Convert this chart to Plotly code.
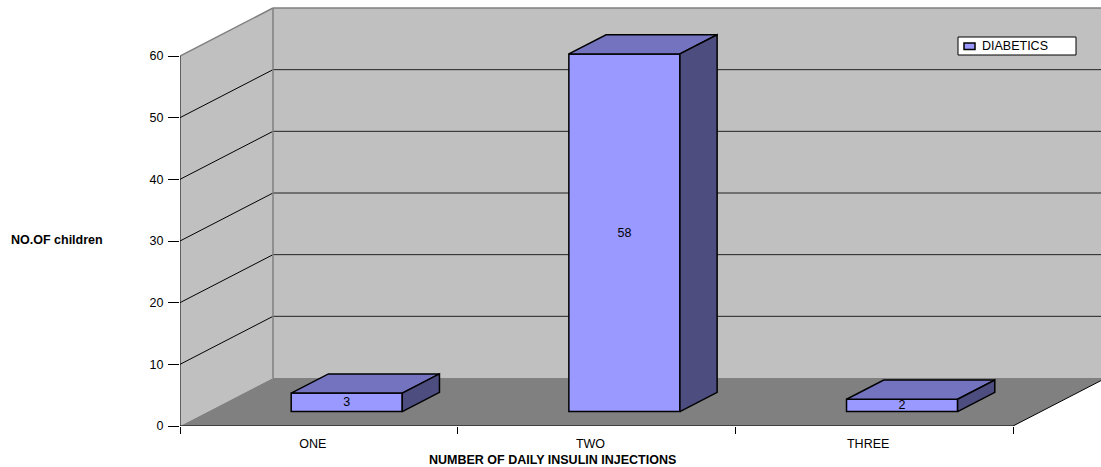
import plotly.graph_objects as go

# Chart data
categories = ["ONE", "TWO", "THREE"]
diabetics = [3, 58, 2]
y_ticks = [0, 10, 20, 30, 40, 50, 60]
series_name = "DIABETICS"
x_title = "NUMBER OF DAILY INSULIN INJECTIONS"
y_title = "NO.OF children"

# Canvas and projection settings
W, H = 1101, 467
ML, MB = 180, 41
PLOT_W, PLOT_H = W - ML, H - MB
CAT_PX = 833 / 3            # pixels per category on the front plane
VAL_PX = 370 / 60           # pixels per value unit on the front plane
X_MAX = PLOT_W / CAT_PX
Y_MAX = PLOT_H / VAL_PX
DEPTH_X = 93 / CAT_PX       # oblique depth offset, in axis units
DEPTH_Y = 48 / VAL_PX
BAR_W = 0.4
FRONT, BACK = 0.3, 0.7      # bar front/back as fraction of wall depth
N = len(categories)
Y_TOP = y_ticks[-1]

FONT = "Liberation Sans, Arial, sans-serif"
FS = 12.5
WALL = "#C0C0C0"
FLOOR = "#808080"
FACE_FRONT = "#9999FF"
FACE_TOP = "#7373BF"
FACE_SIDE = "#4D4D80"


def px_x(p):
    return (p - ML) / PLOT_W


def px_y(p):
    return (PLOT_H - p) / PLOT_H


def path(points):
    return "M " + " L ".join(f"{x},{y}" for x, y in points) + " Z"


def seg(x0, y0, x1, y1, color="black", width=1):
    return dict(type="line", xref="x", yref="y", x0=x0, y0=y0, x1=x1, y1=y1,
                line=dict(color=color, width=width), layer="below")


shapes = [
    # side wall, back wall and floor
    dict(type="path", xref="x", yref="y", layer="below", fillcolor=WALL,
         line=dict(width=0),
         path=path([(0, 0), (DEPTH_X, DEPTH_Y), (DEPTH_X, Y_TOP + DEPTH_Y), (0, Y_TOP)])),
    dict(type="path", xref="x", yref="y", layer="below", fillcolor=WALL,
         line=dict(width=0),
         path=path([(DEPTH_X, DEPTH_Y), (N + DEPTH_X, DEPTH_Y),
                    (N + DEPTH_X, Y_TOP + DEPTH_Y), (DEPTH_X, Y_TOP + DEPTH_Y)])),
    dict(type="path", xref="x", yref="y", layer="below", fillcolor=FLOOR,
         line=dict(width=0),
         path=path([(0, 0), (N, 0), (N + DEPTH_X, DEPTH_Y), (DEPTH_X, DEPTH_Y)])),
]

# gridlines on back and side walls
for v in y_ticks[1:-1]:
    shapes.append(seg(DEPTH_X, v + DEPTH_Y, N + DEPTH_X, v + DEPTH_Y, "#222222", 1))
    shapes.append(seg(0, v, DEPTH_X, v + DEPTH_Y, "black", 1))

# wall borders
shapes += [
    seg(0, Y_TOP, DEPTH_X, Y_TOP + DEPTH_Y, "#808080", 1.5),
    seg(DEPTH_X, Y_TOP + DEPTH_Y, N + DEPTH_X, Y_TOP + DEPTH_Y, "#808080", 1.5),
    seg(DEPTH_X, DEPTH_Y, DEPTH_X, Y_TOP + DEPTH_Y, "#808080", 1.5),
    seg(N, 0, N + DEPTH_X, DEPTH_Y, "black", 1),
    # axis lines
    seg(0, 0, 0, Y_TOP, "black", 1),
    seg(0, 0, N, 0, "black", 1),
]

# legend box with swatch
shapes += [
    dict(type="rect", xref="paper", yref="paper", layer="above",
         x0=px_x(958), x1=px_x(1076), y0=px_y(55), y1=px_y(37),
         fillcolor="white", line=dict(color="black", width=1)),
    dict(type="rect", xref="paper", yref="paper", layer="above",
         x0=px_x(964), x1=px_x(975), y0=px_y(49.5), y1=px_y(43),
         fillcolor=FACE_FRONT, line=dict(color="black", width=1.5)),
]

# top and side faces of each bar
top_x, top_y, side_x, side_y = [], [], [], []
ddx, ddy = (BACK - FRONT) * DEPTH_X, (BACK - FRONT) * DEPTH_Y
base = FRONT * DEPTH_Y
for i, v in enumerate(diabetics):
    x0 = i + 0.5 - BAR_W / 2 + FRONT * DEPTH_X
    x1 = x0 + BAR_W
    t = base + v
    top_x += [x0, x1, x1 + ddx, x0 + ddx, x0, None]
    top_y += [t, t, t + ddy, t + ddy, t, None]
    side_x += [x1, x1 + ddx, x1 + ddx, x1, x1, None]
    side_y += [base, base + ddy, t + ddy, t, base, None]

fig = go.Figure()

fig.add_trace(go.Bar(
    x=[i + 0.5 + FRONT * DEPTH_X for i in range(N)],
    y=diabetics,
    base=base,
    width=BAR_W,
    name=series_name,
    marker=dict(color=FACE_FRONT, line=dict(color="black", width=1.5)),
    text=[str(v) for v in diabetics],
    textposition="inside",
    insidetextanchor="middle",
    constraintext="none",
    textangle=0,
    textfont=dict(family=FONT, size=FS, color="black"),
    hoverinfo="skip",
    showlegend=False,
))
fig.add_trace(go.Scatter(
    x=top_x, y=top_y, mode="lines", fill="toself", fillcolor=FACE_TOP,
    line=dict(color="black", width=1.5), hoverinfo="skip", showlegend=False,
))
fig.add_trace(go.Scatter(
    x=side_x, y=side_y, mode="lines", fill="toself", fillcolor=FACE_SIDE,
    line=dict(color="black", width=1.5), hoverinfo="skip", showlegend=False,
))

fig.update_layout(
    width=W, height=H,
    margin=dict(l=ML, r=0, t=0, b=MB, pad=0),
    paper_bgcolor="white",
    plot_bgcolor="white",
    font=dict(family=FONT, size=FS, color="black"),
    shapes=shapes,
    showlegend=False,
    xaxis=dict(
        range=[0, X_MAX], showgrid=False, zeroline=False, showline=False,
        tickmode="array", tickvals=[i + 0.5 for i in range(N)], ticktext=categories,
        ticks="", ticklabelstandoff=8, ticklabelshift=-6,
        tickfont=dict(family=FONT, size=FS, color="black"),
        minor=dict(tickmode="array", tickvals=list(range(N + 1)), ticks="outside",
                   ticklen=7, tickcolor="black", tickwidth=1, showgrid=False),
        fixedrange=True,
    ),
    yaxis=dict(
        range=[0, Y_MAX], showgrid=False, zeroline=False, showline=False,
        tickmode="array", tickvals=y_ticks, ticks="outside", ticklen=11,
        tickcolor="black", tickwidth=1, ticklabelstandoff=2,
        tickfont=dict(family=FONT, size=FS, color="black"),
        fixedrange=True,
    ),
    annotations=[
        dict(text=f"<b>{y_title}</b>", xref="paper", yref="paper",
             x=px_x(57), y=px_y(240),
             xanchor="center", yanchor="middle", showarrow=False,
             font=dict(family=FONT, size=FS, color="black")),
        dict(text=f"<b>{x_title}</b>", xref="x", yref="paper",
             x=(552 - ML) / CAT_PX, y=px_y(460),
             xanchor="center", yanchor="middle", showarrow=False,
             font=dict(family=FONT, size=FS, color="black")),
        dict(text=series_name, xref="paper", yref="paper",
             x=px_x(980), y=px_y(46.5),
             xanchor="left", yanchor="middle", showarrow=False,
             font=dict(family=FONT, size=FS, color="black")),
    ],
)

fig.write_html("out.html")
